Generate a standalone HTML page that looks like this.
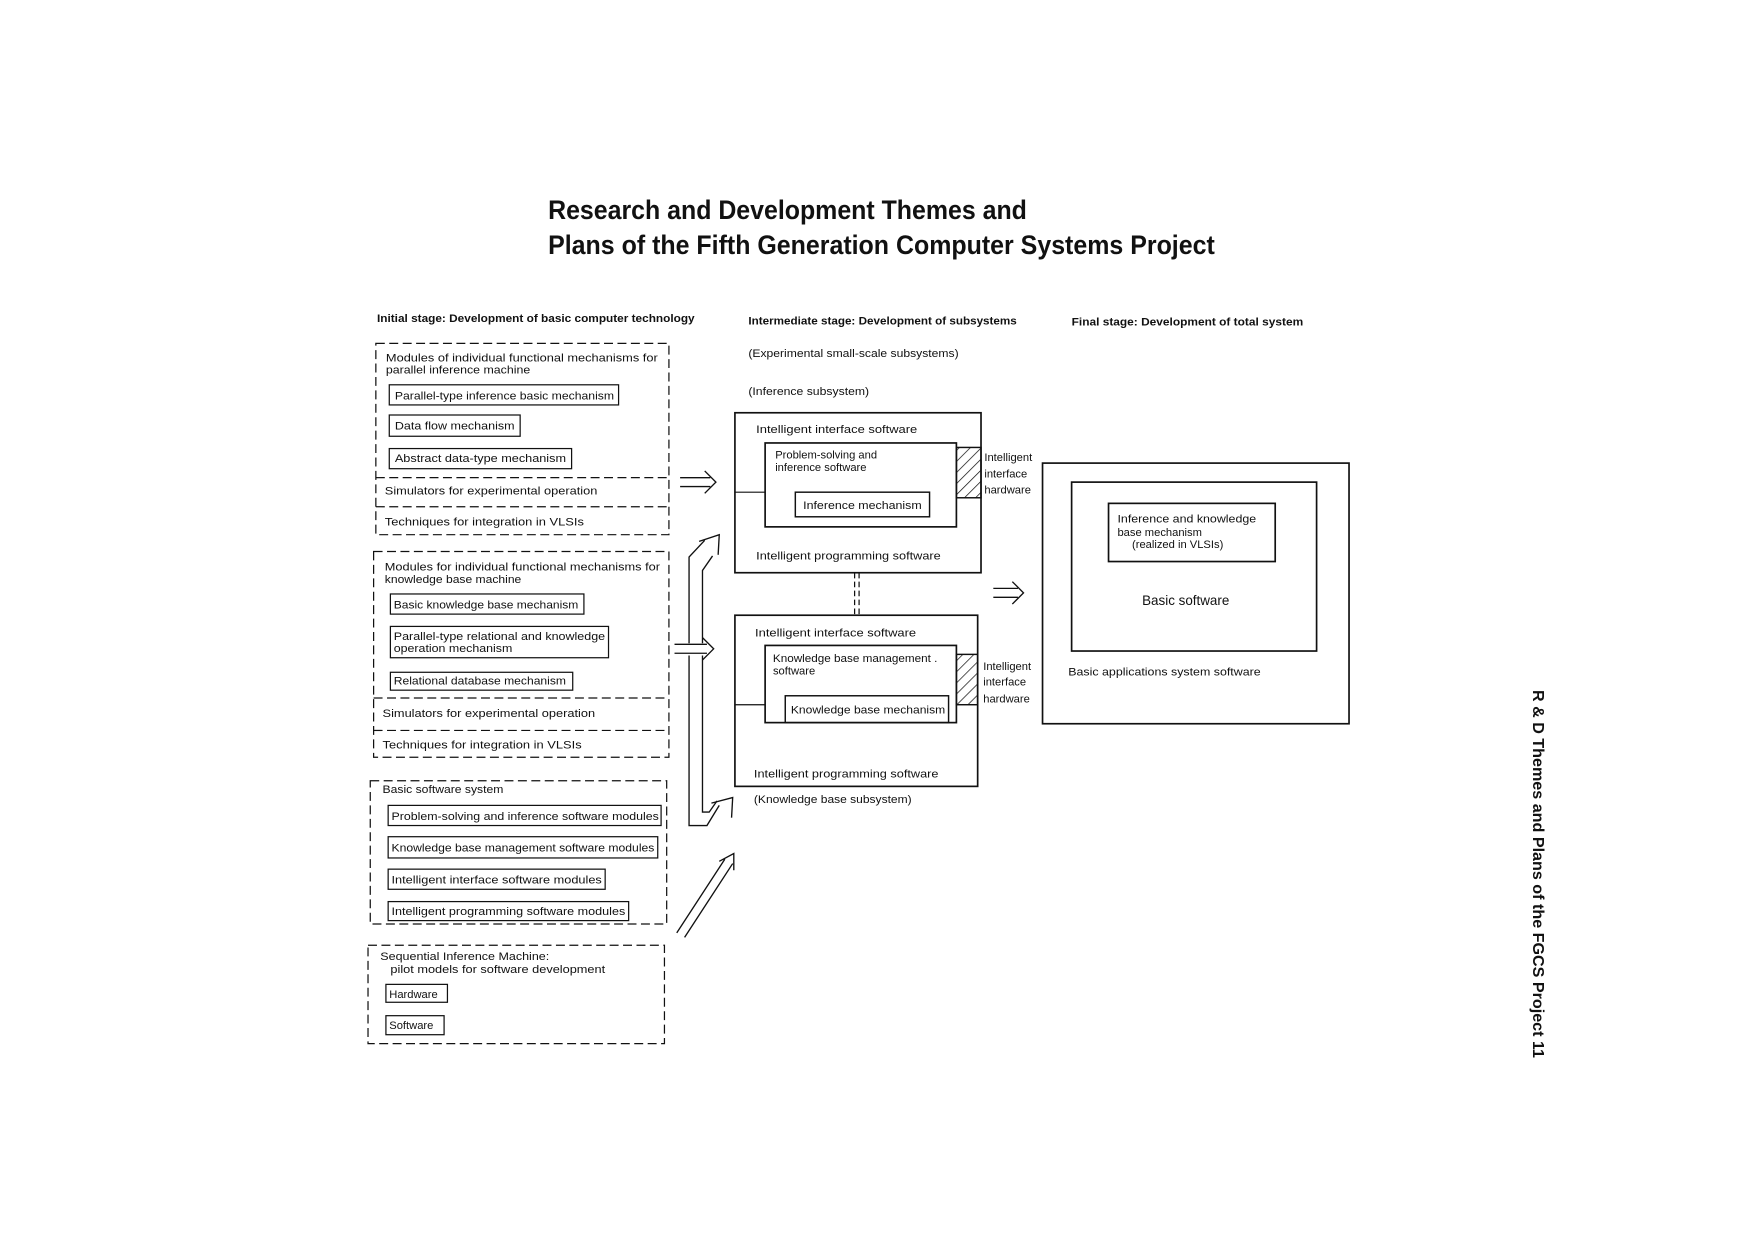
<!DOCTYPE html>
<html><head><meta charset="utf-8"><style>
html,body{margin:0;padding:0;background:#fff;}
svg{display:block;}
text{font-family:"Liberation Sans",sans-serif;fill:#111;}
</style></head><body>
<svg width="1754" height="1248" viewBox="0 0 1754 1248" xmlns="http://www.w3.org/2000/svg">
<defs>
<pattern id="h" width="7" height="7" patternUnits="userSpaceOnUse" patternTransform="rotate(45)">
<line x1="0" y1="0" x2="0" y2="7" stroke="#111" stroke-width="1.3"/>
</pattern>
</defs>
<rect width="1754" height="1248" fill="#fff"/>
<g transform="scale(1.1186)" stroke="#111" fill="none" stroke-width="1.1">
<!-- title -->
<text x="490" y="196" font-size="24" font-weight="bold" stroke="none" textLength="428" lengthAdjust="spacingAndGlyphs">Research and Development Themes and</text>
<text x="490" y="227" font-size="24" font-weight="bold" stroke="none" textLength="596" lengthAdjust="spacingAndGlyphs">Plans of the Fifth Generation Computer Systems Project</text>
<g stroke="none" font-size="9.5" font-weight="bold">
<text x="337" y="288" textLength="284" lengthAdjust="spacingAndGlyphs">Initial stage:  Development of basic computer technology</text>
<text x="669" y="290" textLength="240" lengthAdjust="spacingAndGlyphs">Intermediate stage:  Development of subsystems</text>
<text x="958" y="291" textLength="207" lengthAdjust="spacingAndGlyphs">Final stage:  Development of total system</text>
</g>
<!-- dashed boxes -->
<g stroke-dasharray="8,4">
<rect x="336" y="307" width="262" height="171"/>
<line x1="336" y1="427" x2="598" y2="427"/><line x1="336" y1="453" x2="598" y2="453"/>
<rect x="334" y="493" width="264" height="184"/>
<line x1="334" y1="624" x2="598" y2="624"/><line x1="334" y1="653" x2="598" y2="653"/>
<rect x="331" y="698" width="265" height="128"/>
<rect x="329" y="845" width="265" height="88"/>
</g>
<!-- solid small boxes -->
<rect x="348" y="344" width="205" height="18"/>
<rect x="348" y="371" width="117" height="19"/>
<rect x="348" y="401" width="163" height="18"/>
<rect x="349" y="531" width="173" height="18"/>
<rect x="349" y="560" width="195" height="28"/>
<rect x="349" y="601" width="163" height="16"/>
<rect x="347" y="720" width="244" height="18"/>
<rect x="347" y="748" width="241" height="19"/>
<rect x="347" y="777" width="194" height="18"/>
<rect x="347" y="806" width="215" height="17"/>
<rect x="345" y="880" width="55" height="16"/>
<rect x="345" y="908" width="52" height="17"/>
<g stroke="none" font-size="10">
<text x="345" y="323" textLength="243" lengthAdjust="spacingAndGlyphs">Modules of individual functional mechanisms for</text>
<text x="345" y="334" textLength="129" lengthAdjust="spacingAndGlyphs">parallel inference machine</text>
<text x="353" y="357" textLength="196" lengthAdjust="spacingAndGlyphs">Parallel-type inference basic mechanism</text>
<text x="353" y="384" textLength="107" lengthAdjust="spacingAndGlyphs">Data flow mechanism</text>
<text x="353" y="413" textLength="153" lengthAdjust="spacingAndGlyphs">Abstract data-type mechanism</text>
<text x="344" y="442" textLength="190" lengthAdjust="spacingAndGlyphs">Simulators for experimental operation</text>
<text x="344" y="470" textLength="178" lengthAdjust="spacingAndGlyphs">Techniques for integration in VLSIs</text>
<text x="344" y="510" textLength="246" lengthAdjust="spacingAndGlyphs">Modules for individual functional mechanisms for</text>
<text x="344" y="521" textLength="122" lengthAdjust="spacingAndGlyphs">knowledge base machine</text>
<text x="352" y="544" textLength="165" lengthAdjust="spacingAndGlyphs">Basic knowledge base mechanism</text>
<text x="352" y="572" textLength="189" lengthAdjust="spacingAndGlyphs">Parallel-type relational and knowledge</text>
<text x="352" y="583" textLength="106" lengthAdjust="spacingAndGlyphs">operation mechanism</text>
<text x="352" y="612" textLength="154" lengthAdjust="spacingAndGlyphs">Relational database mechanism</text>
<text x="342" y="641" textLength="190" lengthAdjust="spacingAndGlyphs">Simulators for experimental operation</text>
<text x="342" y="669" textLength="178" lengthAdjust="spacingAndGlyphs">Techniques for integration in VLSIs</text>
<text x="342" y="709" textLength="108" lengthAdjust="spacingAndGlyphs">Basic software system</text>
<text x="350" y="733" textLength="239" lengthAdjust="spacingAndGlyphs">Problem-solving and inference software modules</text>
<text x="350" y="761" textLength="235" lengthAdjust="spacingAndGlyphs">Knowledge base management software modules</text>
<text x="350" y="790" textLength="188" lengthAdjust="spacingAndGlyphs">Intelligent interface software modules</text>
<text x="350" y="818" textLength="209" lengthAdjust="spacingAndGlyphs">Intelligent programming software modules</text>
<text x="340" y="858" textLength="151" lengthAdjust="spacingAndGlyphs">Sequential Inference Machine:</text>
<text x="349" y="870" textLength="192" lengthAdjust="spacingAndGlyphs">pilot models for software development</text>
<text x="348" y="892">Hardware</text>
<text x="348" y="920">Software</text>
<text x="669" y="319" textLength="188" lengthAdjust="spacingAndGlyphs">(Experimental small-scale subsystems)</text>
<text x="669" y="353" textLength="108" lengthAdjust="spacingAndGlyphs">(Inference subsystem)</text>
<text x="674" y="718" textLength="141" lengthAdjust="spacingAndGlyphs">(Knowledge base subsystem)</text>
</g>
<!-- inference subsystem -->
<rect x="657" y="369" width="220" height="143" stroke-width="1.5"/>
<rect x="684" y="396" width="171" height="75" stroke-width="1.5"/>
<rect x="711" y="440" width="120" height="22" stroke-width="1.3"/>
<line x1="657" y1="440" x2="684" y2="440"/>
<rect x="855" y="400" width="22" height="45" fill="url(#h)" stroke-width="1.3"/>
<!-- KB subsystem -->
<rect x="657" y="550" width="217" height="153" stroke-width="1.5"/>
<rect x="684" y="577" width="171" height="69" stroke-width="1.5"/>
<rect x="702" y="622" width="146" height="24" stroke-width="1.3"/>
<line x1="657" y1="630" x2="684" y2="630"/>
<rect x="855" y="585" width="19" height="45" fill="url(#h)" stroke-width="1.3"/>
<!-- connector -->
<line x1="764" y1="512" x2="764" y2="550" stroke-dasharray="5,3"/>
<line x1="768" y1="512" x2="768" y2="550" stroke-dasharray="5,3"/>
<g stroke="none" font-size="10">
<text x="676" y="387" textLength="144" lengthAdjust="spacingAndGlyphs">Intelligent interface software</text>
<text x="693" y="410">Problem-solving and</text>
<text x="693" y="421">inference software</text>
<text x="718" y="455" textLength="106" lengthAdjust="spacingAndGlyphs">Inference mechanism</text>
<text x="880" y="412">Intelligent</text>
<text x="880" y="427">interface</text>
<text x="880" y="441">hardware</text>
<text x="676" y="500" textLength="165" lengthAdjust="spacingAndGlyphs">Intelligent programming software</text>
<text x="675" y="569" textLength="144" lengthAdjust="spacingAndGlyphs">Intelligent interface software</text>
<text x="691" y="592" textLength="147" lengthAdjust="spacingAndGlyphs">Knowledge base management .</text>
<text x="691" y="603">software</text>
<text x="707" y="638" textLength="138" lengthAdjust="spacingAndGlyphs">Knowledge base mechanism</text>
<text x="879" y="599">Intelligent</text>
<text x="879" y="613">interface</text>
<text x="879" y="628">hardware</text>
<text x="674" y="695" textLength="165" lengthAdjust="spacingAndGlyphs">Intelligent programming software</text>
</g>
<!-- final -->
<rect x="932" y="414" width="274" height="233" stroke-width="1.5"/>
<rect x="958" y="431" width="219" height="151" stroke-width="1.5"/>
<rect x="991" y="450" width="149" height="52" stroke-width="1.5"/>
<g stroke="none" font-size="10">
<text x="999" y="467" textLength="124" lengthAdjust="spacingAndGlyphs">Inference and knowledge</text>
<text x="999" y="479">base mechanism</text>
<text x="1012" y="490">(realized in VLSIs)</text>
<text x="1060" y="541" font-size="12" text-anchor="middle">Basic software</text>
<text x="955" y="604" textLength="172" lengthAdjust="spacingAndGlyphs">Basic applications system software</text>
</g>
<!-- double arrows -->
<g stroke-width="1.2">
<path d="M608,427 H635 M608,435 H635 M630,421 L640,431 L630,441"/>
<path d="M888,526 H910 M888,534 H910 M905,520 L915,530 L905,540"/>
<path d="M605,834 L648,768 M612,838 L655,772 M643,770 L656,763 L656,778"/>
<!-- bracket -->
<path d="M616,575 V498 L630,483"/>
<path d="M628,575 V510 L637,497"/>
<path d="M625,484 L643,478 L642,496"/>
<path d="M616,586 V738 H632 L643,720"/>
<path d="M628,586 V726 H634 L641,716"/>
<path d="M636,718 L655,713 L654,731"/>
<path d="M603,576 H632 M603,584 H632 M628,570 L638,580 L628,590"/>
</g>
</g>
<text transform="translate(1533,690) rotate(90)" font-size="16" font-weight="bold" textLength="368" lengthAdjust="spacingAndGlyphs">R &amp; D Themes and Plans of the FGCS Project  11</text>
</svg>
</body></html>
